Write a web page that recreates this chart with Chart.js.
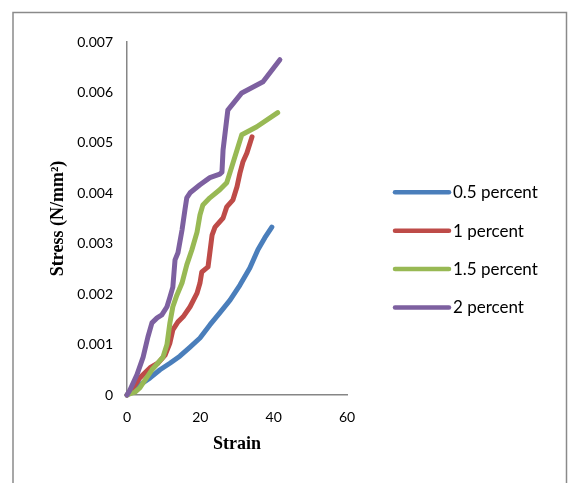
<!DOCTYPE html>
<html>
<head>
<meta charset="utf-8">
<script src="https://cdn.jsdelivr.net/npm/chart.js@4"></script>
<style>
  html, body { margin: 0; padding: 0; background: #fff; }
  canvas { display: block; }
</style>
</head>
<body>
<canvas id="chart" width="572" height="483"></canvas>
<script>
// series (strain, stress N/mm²)
const seriesLabels = ["0.5 percent", "1 percent", "1.5 percent", "2 percent"];
const seriesColors = ["#4A7EBB", "#BE4B48", "#98B954", "#7D60A0"];

const strain05 = [0, 1.6, 3.5, 6.3, 9.0, 11.7, 14.4, 17.2, 19.9, 22.6, 25.3, 28.1, 30.8, 33.5, 35.7, 37.6, 39.5];
const stress05 = [0, 0.0001, 0.0002, 0.00034, 0.0005, 0.00063, 0.00077, 0.00095, 0.00113, 0.00139, 0.00163, 0.00188, 0.00218, 0.00252, 0.00288, 0.00312, 0.00333];

const strain10 = [0, 1.6, 3.5, 6.3, 8.4, 10.4, 11.7, 12.5, 13.9, 15.3, 17.2, 19.1, 19.9, 20.4, 22.1, 23.2, 24.0, 26.2, 27.2, 28.9, 30.0, 30.8, 31.6, 32.7, 34.1];
const stress10 = [0, 0.00014, 0.00034, 0.00054, 0.00063, 0.00079, 0.00103, 0.00129, 0.00145, 0.00155, 0.00175, 0.00202, 0.00222, 0.00244, 0.00254, 0.00317, 0.00333, 0.00351, 0.00373, 0.00387, 0.00413, 0.0044, 0.00462, 0.0048, 0.00512];

const strain15 = [0, 2.2, 3.5, 4.4, 6.8, 8.4, 9.8, 10.9, 11.7, 12.5, 13.6, 15.0, 16.3, 17.7, 19.1, 19.9, 20.7, 22.6, 25.3, 27.2, 28.9, 31.3, 35.4, 41.1];
const stress15 = [0, 0.00006, 0.00014, 0.00024, 0.0005, 0.00063, 0.00075, 0.001, 0.00143, 0.00175, 0.00198, 0.00222, 0.00258, 0.00288, 0.00323, 0.00357, 0.00377, 0.00391, 0.00407, 0.00421, 0.0046, 0.00516, 0.00532, 0.0056];

const strain20 = [0, 0.8, 2.7, 4.4, 5.7, 6.8, 8.2, 9.5, 10.9, 11.7, 12.5, 13.1, 13.9, 15.0, 15.8, 16.3, 17.2, 19.9, 22.6, 25.3, 25.9, 26.2, 27.5, 31.3, 37.1, 41.7];
const stress20 = [0, 0.0001, 0.0004, 0.00075, 0.00115, 0.00143, 0.00153, 0.00159, 0.00175, 0.00194, 0.00214, 0.00268, 0.00282, 0.00327, 0.00367, 0.00391, 0.00401, 0.00417, 0.00431, 0.00438, 0.00442, 0.00486, 0.00565, 0.00599, 0.00621, 0.00665];

const xTicks = [0, 20, 40, 60];
const yMax = 0.007;

const strains = [strain05, strain10, strain15, strain20];
const stresses = [stress05, stress10, stress15, stress20];

const tickFont = { family: "Lato", size: 14 };
const titleFont = { family: "Liberation Serif", size: 18, weight: "bold" };

const datasets = seriesLabels.map((label, i) => ({
  label: label,
  data: strains[i].map((x, j) => ({ x: x, y: stresses[i][j] })),
  borderColor: seriesColors[i],
  backgroundColor: seriesColors[i],
  borderWidth: 5,
  borderCapStyle: "round",
  borderJoinStyle: "round",
  pointRadius: 0,
  tension: 0,
  clip: false,
  order: seriesLabels.length - i,
}));

// outer frame like the spreadsheet chart border
const framePlugin = {
  id: "frame",
  beforeDraw(chart) {
    const { ctx } = chart;
    ctx.save();
    ctx.fillStyle = "#fff";
    ctx.fillRect(0, 0, chart.width, chart.height);
    ctx.strokeStyle = "#8a8a8a";
    ctx.lineWidth = 1.5;
    ctx.strokeRect(13, 12.5, 553.5, 500);
    ctx.restore();
  },
};

const sideLegend = {
  id: "sideLegend",
  afterDraw(chart) {
    const { ctx } = chart;
    ctx.save();
    chart.data.datasets.forEach((ds, i) => {
      const y = 192.3 + i * 38.4;
      ctx.strokeStyle = ds.borderColor;
      ctx.lineWidth = 4.5;
      ctx.lineCap = "round";
      ctx.beginPath();
      ctx.moveTo(395, y);
      ctx.lineTo(449, y);
      ctx.stroke();
      ctx.fillStyle = "#000";
      ctx.font = "17px Lato";
      ctx.textAlign = "left";
      ctx.textBaseline = "middle";
      ctx.fillText(ds.label, 453, y + 0.5);
    });
    ctx.restore();
  },
};

new Chart(document.getElementById("chart"), {
  type: "line",
  data: { datasets: datasets },
  options: {
    responsive: false,
    animation: false,
    layout: { padding: { left: 0, top: 42, right: 225, bottom: 28 } },
    plugins: {
      legend: { display: false },
      tooltip: { enabled: false },
    },
    scales: {
      x: {
        type: "linear",
        min: 0,
        max: 60,
        afterBuildTicks: (scale) => {
          scale.ticks = xTicks.map((v) => ({ value: v }));
        },
        afterFit: (scale) => {
          scale.height = 60;
        },
        grid: { display: false, drawTicks: false },
        border: { display: true, color: "#868686", width: 1.5 },
        ticks: { color: "#000", font: tickFont, padding: 14, maxRotation: 0 },
        title: {
          display: true,
          text: "Strain",
          color: "#000",
          font: titleFont,
          padding: { top: 0, bottom: 0 },
        },
      },
      y: {
        min: 0,
        max: yMax,
        ticks: {
          stepSize: 0.001,
          color: "#000",
          font: tickFont,
          padding: 14,
          callback: (v) => (v === 0 ? "0" : v.toFixed(3)),
        },
        afterFit: (scale) => {
          scale.width = 127;
        },
        grid: { display: false, drawTicks: false },
        border: { display: true, color: "#868686", width: 1.5 },
        title: {
          display: true,
          text: "Stress (N/mm²)",
          color: "#000",
          font: titleFont,
          padding: { top: 48, bottom: 0 },
        },
      },
    },
  },
  plugins: [framePlugin, sideLegend],
});
</script>
</body>
</html>
